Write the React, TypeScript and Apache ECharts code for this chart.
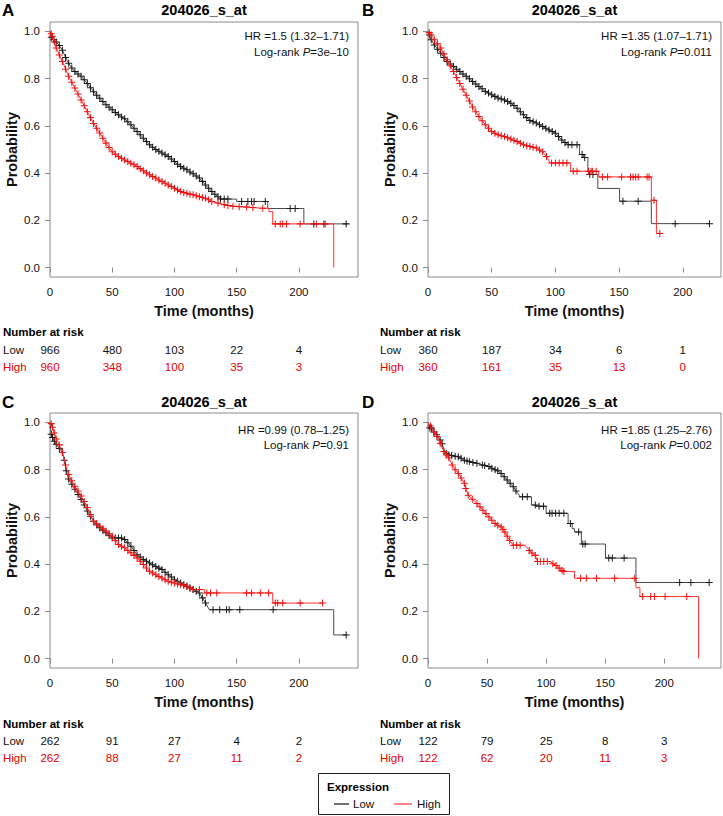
import React, { useEffect, useRef } from 'react';
import * as echarts from 'echarts';

const FONT = 'Liberation Sans';

// ---- axis ticks / categories ----
const xTicks = [0, 50, 100, 150, 200];
const yTicks = [0, 0.2, 0.4, 0.6, 0.8, 1.0];
const riskRows = ['Low', 'High'];
const panelTitle = '204026_s_at';

// ---- Kaplan–Meier curves: [time (months), survival probability, censored mark 1/0] ----
const aLow = [[0,1,0],[1,0.975,1],[3,0.965,1],[5,0.955,1],[7.5,0.94,1],[10,0.92,1],[12.5,0.89,1],[15,0.865,1],[17.5,0.845,1],[20,0.83,1],[22.5,0.82,1],[25,0.81,1],[27.5,0.795,1],[30,0.78,1],[32.5,0.762,1],[35,0.745,1],[37.5,0.73,1],[40,0.717,1],[42.5,0.703,1],[45,0.69,1],[47.5,0.679,1],[50,0.668,1],[52.5,0.657,1],[55,0.647,1],[57.5,0.638,1],[60,0.63,1],[62.5,0.618,1],[65,0.605,1],[67.5,0.59,1],[70,0.576,1],[72.5,0.562,1],[75,0.548,1],[77.5,0.534,1],[80,0.52,1],[82.5,0.51,1],[85,0.5,1],[87.5,0.493,1],[90,0.485,1],[92.5,0.478,1],[95,0.47,1],[97.5,0.46,1],[100,0.449,1],[102.5,0.438,1],[105,0.428,1],[107.5,0.421,1],[110,0.414,1],[112.5,0.405,1],[115,0.397,1],[117.5,0.388,1],[120,0.379,1],[122.5,0.365,1],[125,0.35,1],[127.5,0.336,1],[130,0.322,1],[132.5,0.31,1],[135,0.3,1],[137,0.29,1],[140,0.29,1],[143,0.29,1],[147,0.29,0],[150,0.29,0],[150,0.28,0],[154,0.28,1],[159,0.28,1],[162,0.28,1],[164,0.28,1],[173,0.28,1],[175,0.28,0],[175,0.25,0],[193,0.25,1],[197,0.25,1],[204,0.25,0],[204,0.185,0],[212,0.185,1],[221,0.185,1],[238,0.185,1]];
const aHigh = [[0,1,0],[1,0.99,1],[2,0.98,1],[3.5,0.955,1],[5,0.93,1],[7.5,0.9,1],[10,0.873,1],[12.5,0.84,1],[15,0.81,1],[17.5,0.785,1],[20,0.76,1],[22.5,0.735,1],[25,0.71,1],[27.5,0.685,1],[30,0.66,1],[32.5,0.635,1],[35,0.61,1],[37.5,0.59,1],[40,0.57,1],[42.5,0.548,1],[45,0.527,1],[47.5,0.508,1],[50,0.49,1],[52.5,0.48,1],[55,0.47,1],[57.5,0.463,1],[60,0.456,1],[62.5,0.449,1],[65,0.442,1],[67.5,0.435,1],[70,0.428,1],[72.5,0.419,1],[75,0.41,1],[77.5,0.401,1],[80,0.393,1],[82.5,0.386,1],[85,0.379,1],[87.5,0.371,1],[90,0.364,1],[92.5,0.357,1],[95,0.35,1],[97.5,0.343,1],[100,0.336,1],[102.5,0.329,1],[105,0.322,1],[107.5,0.318,1],[110,0.315,1],[112.5,0.311,1],[115,0.308,1],[117.5,0.304,1],[120,0.3,1],[122.5,0.297,1],[125,0.294,1],[127.5,0.287,1],[130,0.28,1],[135,0.273,1],[140,0.266,1],[143,0.263,1],[147,0.26,1],[152,0.258,1],[158,0.256,1],[163,0.254,1],[171,0.251,1],[176,0.251,0],[176,0.237,0],[179,0.237,0],[179,0.185,0],[181,0.185,1],[185,0.185,1],[187,0.185,1],[190,0.185,1],[201,0.185,1],[214,0.185,1],[220,0.185,1],[228,0.185,0],[228,0,0]];

const bLow = [[0,1,0],[1,0.985,1],[2.5,0.965,1],[5,0.943,1],[7.5,0.925,1],[10,0.908,1],[12.5,0.89,1],[15,0.873,1],[17.5,0.862,1],[20,0.852,1],[22.5,0.84,1],[25,0.83,1],[27.5,0.82,1],[30,0.81,1],[32.5,0.8,1],[35,0.788,1],[37.5,0.777,1],[40,0.767,1],[42.5,0.757,1],[45,0.746,1],[47.5,0.739,1],[50,0.732,1],[52.5,0.725,1],[55,0.718,1],[57.5,0.714,1],[60,0.71,1],[62.5,0.703,1],[65,0.696,1],[67.5,0.686,1],[70,0.675,1],[72.5,0.66,1],[75,0.647,1],[77.5,0.635,1],[80,0.623,1],[82.5,0.618,1],[85,0.612,1],[87.5,0.605,1],[90,0.597,1],[92.5,0.59,1],[95,0.583,1],[97.5,0.576,1],[100,0.569,1],[102.5,0.555,1],[105,0.54,1],[107.5,0.53,1],[110,0.52,1],[113,0.52,1],[117,0.52,1],[119,0.52,0],[119,0.479,0],[121,0.479,1],[122,0.479,0],[122,0.466,0],[123,0.466,1],[125.5,0.466,0],[125.5,0.408,0],[126.5,0.408,0],[126.5,0.394,0],[127,0.394,1],[129.5,0.394,1],[133.3,0.394,0],[133.3,0.335,0],[150.4,0.335,0],[150.4,0.281,0],[153,0.281,1],[165,0.281,1],[175.3,0.281,0],[175.3,0.186,0],[194,0.186,1],[221,0.186,1]];
const bHigh = [[0,1,0],[1,0.995,1],[2.5,0.985,1],[5,0.965,1],[7.5,0.948,1],[10,0.93,1],[12.5,0.905,1],[15,0.88,1],[17.5,0.855,1],[20,0.83,1],[22.5,0.805,1],[25,0.78,1],[27.5,0.755,1],[30,0.73,1],[32.5,0.705,1],[35,0.68,1],[37.5,0.66,1],[40,0.64,1],[42.5,0.622,1],[45,0.605,1],[47.5,0.59,1],[50,0.576,1],[52.5,0.569,1],[55,0.562,1],[57.5,0.558,1],[60,0.555,1],[62.5,0.55,1],[65,0.544,1],[67.5,0.539,1],[70,0.534,1],[72.5,0.527,1],[75,0.52,1],[77.5,0.516,1],[80,0.513,1],[82.5,0.51,1],[85,0.506,1],[87.5,0.498,1],[90,0.49,1],[93,0.47,1],[96,0.443,0],[97,0.443,1],[100,0.443,1],[103,0.443,1],[106,0.443,1],[109,0.443,1],[112,0.443,0],[112,0.408,0],[114,0.408,1],[117,0.408,1],[126,0.408,1],[128,0.408,1],[129,0.408,1],[132,0.408,1],[134,0.408,0],[134,0.384,0],[137,0.384,1],[141,0.384,1],[152,0.384,1],[159,0.384,1],[161,0.384,1],[163,0.384,1],[165,0.384,1],[172,0.384,1],[173.5,0.384,1],[175.3,0.384,0],[175.3,0.285,0],[177.4,0.285,1],[179.3,0.285,0],[179.3,0.144,0],[182,0.144,1]];

const cLow = [[0,1,0],[1,0.95,1],[2,0.936,1],[3.5,0.92,1],[5,0.908,1],[7.5,0.89,1],[10,0.873,1],[11.5,0.84,1],[13,0.795,1],[15,0.76,1],[17.5,0.738,1],[20,0.717,1],[22.5,0.695,1],[25,0.674,1],[27.5,0.65,1],[30,0.625,1],[32.5,0.603,1],[35,0.582,1],[37.5,0.567,1],[40,0.554,1],[42.5,0.543,1],[45,0.533,1],[47.5,0.522,1],[50,0.511,1],[52.5,0.511,1],[55,0.511,1],[57.5,0.511,1],[60,0.504,1],[62.5,0.49,1],[65,0.476,1],[67.5,0.458,1],[70,0.44,1],[72.5,0.43,1],[75,0.419,1],[77.5,0.412,1],[80,0.405,1],[82.5,0.397,1],[85,0.39,1],[87.5,0.383,1],[90,0.377,1],[92.5,0.366,1],[95,0.355,1],[97.5,0.345,1],[100,0.334,1],[102.5,0.327,1],[105,0.32,1],[107.5,0.313,1],[110,0.306,1],[112.5,0.299,1],[115,0.292,1],[117.5,0.285,1],[120,0.278,1],[122.5,0.257,1],[125,0.235,1],[128,0.207,0],[131,0.207,1],[136.4,0.207,1],[141.8,0.207,1],[144,0.207,1],[152.5,0.207,1],[179.3,0.207,1],[228,0.207,0],[228,0.1,0],[238,0.1,1]];
const cHigh = [[0,1,0],[1,0.995,1],[2,0.98,1],[3.5,0.955,1],[5,0.93,1],[7.5,0.905,1],[10,0.873,1],[12.5,0.82,1],[15,0.78,1],[17.5,0.753,1],[20,0.73,1],[22.5,0.71,1],[25,0.688,1],[27.5,0.665,1],[30,0.64,1],[32.5,0.61,1],[35,0.582,1],[37.5,0.571,1],[40,0.56,1],[42.5,0.55,1],[45,0.54,1],[47.5,0.529,1],[50,0.518,1],[52.5,0.5,1],[55,0.483,1],[57.5,0.476,1],[60,0.469,1],[62.5,0.458,1],[65,0.448,1],[67.5,0.437,1],[70,0.426,1],[72.5,0.412,1],[75,0.398,1],[77.5,0.384,1],[80,0.37,1],[82.5,0.362,1],[85,0.355,1],[87.5,0.348,1],[90,0.341,1],[92.5,0.334,1],[95,0.327,1],[97.5,0.323,1],[100,0.32,1],[102.5,0.316,1],[105,0.313,1],[107.5,0.31,1],[110,0.306,1],[112.5,0.299,1],[115,0.292,1],[120,0.292,1],[124,0.292,0],[124,0.278,0],[126,0.278,1],[129,0.278,1],[134,0.278,1],[158,0.278,1],[162,0.278,1],[169,0.278,1],[175.5,0.278,1],[179,0.278,0],[179,0.235,0],[181,0.235,1],[183,0.235,1],[187,0.235,1],[201,0.235,1],[219,0.235,1]];

const dLow = [[0,1,0],[1.5,0.976,1],[3,0.976,1],[5,0.96,1],[7.3,0.948,1],[10.3,0.926,1],[12,0.91,1],[13.5,0.885,0],[15.5,0.87,1],[17.6,0.862,1],[20,0.86,1],[23,0.857,1],[25.7,0.855,1],[28,0.848,1],[30.8,0.84,1],[33,0.837,1],[35,0.835,1],[38,0.83,1],[41.4,0.827,1],[46,0.82,1],[48,0.818,1],[51.6,0.813,1],[54,0.806,1],[56.8,0.8,1],[59,0.795,1],[61.9,0.784,1],[64.5,0.77,1],[67,0.756,1],[69.5,0.742,1],[72.2,0.728,1],[74.5,0.71,1],[77.3,0.692,0],[77.3,0.685,0],[80,0.685,1],[84,0.685,1],[87.6,0.685,0],[87.6,0.65,0],[90.8,0.65,1],[94,0.645,1],[97.8,0.645,1],[100,0.645,0],[100,0.615,0],[103,0.615,1],[105,0.615,1],[108,0.615,1],[111,0.615,1],[115,0.615,1],[118.6,0.615,0],[118.6,0.572,0],[120.5,0.572,1],[122,0.572,0],[122,0.55,0],[124,0.55,0],[124,0.536,0],[127.5,0.536,1],[129.8,0.536,0],[129.8,0.485,0],[131,0.485,1],[133,0.485,1],[150.2,0.485,0],[150.2,0.4255,0],[153,0.4255,1],[156,0.4255,1],[166,0.4255,1],[176,0.4255,0],[176,0.322,0],[213,0.322,1],[222.5,0.322,1],[238,0.322,1]];
const dHigh = [[0,1,0],[2,0.985,1],[5.1,0.96,1],[7.5,0.94,1],[10.3,0.912,1],[13.5,0.877,1],[15.5,0.862,1],[17.6,0.85,1],[20.5,0.82,1],[23,0.8,1],[25.7,0.784,1],[28,0.765,1],[30.8,0.742,1],[32,0.72,1],[34,0.692,1],[37.5,0.675,1],[41.4,0.657,1],[44,0.643,1],[46.5,0.628,1],[49,0.614,1],[51.6,0.6,1],[54,0.586,1],[56.8,0.572,1],[59,0.565,1],[61.9,0.557,1],[63.5,0.547,1],[65.1,0.536,1],[67,0.518,1],[69.2,0.5,1],[72.2,0.48,1],[75,0.48,1],[78,0.48,1],[82.4,0.48,0],[85.7,0.458,1],[88,0.447,1],[90.8,0.437,1],[92.7,0.411,1],[95,0.411,1],[98,0.411,1],[101,0.411,1],[103,0.411,0],[105.7,0.402,1],[108.4,0.394,1],[111,0.383,1],[113.5,0.373,1],[115,0.369,1],[124,0.369,0],[124,0.34,0],[129,0.34,1],[134,0.34,1],[142.6,0.34,1],[158,0.34,1],[175,0.34,1],[176,0.34,0],[176,0.3,0],[179.4,0.3,0],[179.4,0.2625,0],[181.7,0.2625,1],[188.5,0.2625,1],[191.6,0.2625,1],[200.7,0.2625,1],[219,0.2625,1],[229,0.2625,0],[229,0,0]];

// ---- statistics ----
const hrLabels = ['HR =1.5 (1.32\u20131.71)', 'HR =1.35 (1.07\u20131.71)', 'HR =0.99 (0.78\u20131.25)', 'HR =1.85 (1.25\u20132.76)'];
const pValues = ['3e\u201310', '0.011', '0.91', '0.002'];

// ---- number at risk (at xTicks) ----
const riskLowA = [966, 480, 103, 22, 4];
const riskHighA = [960, 348, 100, 35, 3];
const riskLowB = [360, 187, 34, 6, 1];
const riskHighB = [360, 161, 35, 13, 0];
const riskLowC = [262, 91, 27, 4, 2];
const riskHighC = [262, 88, 27, 11, 2];
const riskLowD = [122, 79, 25, 8, 3];
const riskHighD = [122, 62, 20, 11, 3];

const panelLetters = ['A', 'B', 'C', 'D'];
const lowCurves = [aLow, bLow, cLow, dLow];
const highCurves = [aHigh, bHigh, cHigh, dHigh];
const riskLows = [riskLowA, riskLowB, riskLowC, riskLowD];
const riskHighs = [riskHighA, riskHighB, riskHighC, riskHighD];
const xMaxes = [247.5, 230, 247.5, 248];

// ---- layout (pixels) ----
const frames = [
  { left: 50, top: 22, width: 308, riskTop: 341.5, labelMargin: 47, headerX: 3, headerY: 332, letterX: 2, titleY: 10, hrY: 36, pY: 52 },
  { left: 428, top: 22, width: 293, riskTop: 341.5, labelMargin: 48, headerX: 380, headerY: 332, letterX: 362, titleY: 10, hrY: 36, pY: 52 },
  { left: 50, top: 413, width: 308, riskTop: 732.5, labelMargin: 47, headerX: 3, headerY: 724, letterX: 2, titleY: 402, hrY: 430, pY: 445 },
  { left: 428, top: 413, width: 293, riskTop: 732.5, labelMargin: 48, headerX: 380, headerY: 724, letterX: 362, titleY: 402, hrY: 430, pY: 445 },
];
const PLOT_H = 255;
const RISK_H = 34;

const BLACK_LINE = '#4a4a4a';
const BLACK_MARK = '#1a1a1a';
const RED_LINE = '#ff3030';
const RED_MARK = '#ee1010';
const RED_TEXT = '#e60000';
const TEXT = '#111111';
const BOX = '#8a8a8a';

const PLUS = 'path://M3,0H4V3H7V4H4V7H3V4H0V3H3Z';

function buildOption() {
  const grid: any[] = [];
  const xAxis: any[] = [];
  const yAxis: any[] = [];
  const series: any[] = [];
  const graphics: any[] = [];

  frames.forEach((f, i) => {
    const xMax = xMaxes[i];
    grid.push({ left: f.left, top: f.top, width: f.width, height: PLOT_H, show: true, borderColor: BOX, borderWidth: 1, backgroundColor: 'transparent', containLabel: false });
    xAxis.push({
      type: 'value', gridIndex: 2 * i, min: 0, max: xMax,
      name: 'Time (months)', nameLocation: 'middle', nameGap: 26,
      nameTextStyle: { fontFamily: FONT, fontSize: 14.5, fontWeight: 'bold', color: TEXT },
      axisLine: { show: false },
      axisTick: { show: true, length: 5, inside: false, lineStyle: { color: BOX }, customValues: xTicks },
      axisLabel: { fontFamily: FONT, fontSize: 11.5, color: TEXT, margin: 9, customValues: xTicks },
      splitLine: { show: false },
    });
    yAxis.push({
      type: 'value', gridIndex: 2 * i, min: -0.04, max: 1.04,
      name: 'Probability', nameLocation: 'middle', nameGap: 31,
      nameTextStyle: { fontFamily: FONT, fontSize: 14.5, fontWeight: 'bold', color: TEXT },
      axisLine: { show: false },
      axisTick: { show: true, length: 5, inside: false, lineStyle: { color: BOX }, customValues: yTicks },
      axisLabel: { fontFamily: FONT, fontSize: 11.5, color: TEXT, margin: 10, customValues: yTicks, formatter: (v: number) => v.toFixed(1) },
      splitLine: { show: false },
    });
    grid.push({ left: f.left, top: f.riskTop, width: f.width, height: RISK_H, show: false });
    xAxis.push({ type: 'value', gridIndex: 2 * i + 1, min: 0, max: xMax, show: false });
    yAxis.push({
      type: 'category', gridIndex: 2 * i + 1, data: riskRows, inverse: true,
      axisLine: { show: false }, axisTick: { show: false }, splitLine: { show: false },
      axisLabel: {
        align: 'left', margin: f.labelMargin, fontFamily: FONT, fontSize: 11.5,
        color: (v: string) => (v === 'High' ? RED_TEXT : TEXT),
      },
    });

    const curve = (name: string, data: number[][], line: string, mark: string, z: number) => ({
      type: 'line', name, data, xAxisIndex: 2 * i, yAxisIndex: 2 * i,
      showSymbol: true, showAllSymbol: true,
      symbol: (v: number[]) => (v[2] ? PLUS : 'none'),
      symbolSize: 7,
      itemStyle: { color: mark },
      lineStyle: { color: line, width: 1 },
      silent: true, z, clip: false,
      emphasis: { disabled: true },
    });
    series.push(curve('Low', lowCurves[i], BLACK_LINE, BLACK_MARK, 2));
    series.push(curve('High', highCurves[i], RED_LINE, RED_MARK, 3));

    const riskSeries = (row: string, vals: number[], color: string) => ({
      type: 'scatter', name: 'risk ' + row, xAxisIndex: 2 * i + 1, yAxisIndex: 2 * i + 1,
      data: xTicks.map((t, k) => [t, riskRows.indexOf(row), vals[k]]),
      symbol: 'circle', symbolSize: 0, itemStyle: { color }, silent: true,
      label: {
        show: true, position: 'inside', formatter: (p: any) => String(p.value[2]),
        color, opacity: 1, textBorderWidth: 0, textBorderColor: 'transparent',
        fontFamily: FONT, fontSize: 11.5,
      },
    });
    series.push(riskSeries('Low', riskLows[i], TEXT));
    series.push(riskSeries('High', riskHighs[i], RED_TEXT));

    const cx = f.left + f.width / 2;
    const right = f.left + f.width - 9;
    graphics.push(
      { type: 'text', x: f.letterX, y: f.titleY, style: { text: panelLetters[i], fill: '#000', font: `bold 17px "${FONT}"`, verticalAlign: 'middle', align: 'left' } },
      { type: 'text', x: cx, y: f.titleY, style: { text: panelTitle, fill: '#000', font: `bold 14.5px "${FONT}"`, verticalAlign: 'middle', align: 'center' } },
      { type: 'text', x: right, y: f.hrY, style: { text: hrLabels[i], fill: TEXT, font: `11.5px "${FONT}"`, verticalAlign: 'middle', align: 'right' } },
      { type: 'text', x: right, y: f.pY, style: {
        text: `{n|Log-rank }{i|P}{n|=${pValues[i]}}`, align: 'right', verticalAlign: 'middle', fill: TEXT, font: `11.5px "${FONT}"`,
        rich: { n: { fill: TEXT, fontSize: 11.5, fontFamily: FONT }, i: { fill: TEXT, fontSize: 11.5, fontFamily: FONT, fontStyle: 'italic' } },
      } },
      { type: 'text', x: f.headerX, y: f.headerY, style: { text: 'Number at risk', fill: '#000', font: `bold 11.5px "${FONT}"`, verticalAlign: 'middle', align: 'left' } },
    );
  });

  graphics.push(
    { type: 'rect', shape: { x: 318.5, y: 773.5, width: 131, height: 41 }, style: { fill: '#fff', stroke: '#222', lineWidth: 1 } },
    { type: 'text', x: 327, y: 787, style: { text: 'Expression', fill: '#000', font: `bold 11.5px "${FONT}"`, verticalAlign: 'middle', align: 'left' } },
    { type: 'line', shape: { x1: 334, y1: 804, x2: 349, y2: 804 }, style: { stroke: '#111', lineWidth: 1.2 } },
    { type: 'text', x: 353, y: 804, style: { text: riskRows[0], fill: TEXT, font: `11.5px "${FONT}"`, verticalAlign: 'middle', align: 'left' } },
    { type: 'line', shape: { x1: 394, y1: 804, x2: 412, y2: 804 }, style: { stroke: RED_LINE, lineWidth: 1.2 } },
    { type: 'text', x: 417, y: 804, style: { text: riskRows[1], fill: TEXT, font: `11.5px "${FONT}"`, verticalAlign: 'middle', align: 'left' } },
  );

  return {
    animation: false,
    backgroundColor: '#fff',
    textStyle: { fontFamily: FONT },
    grid, xAxis, yAxis, series,
    graphic: { elements: graphics },
  };
}

export default function App() {
  const ref = useRef<HTMLDivElement>(null);
  useEffect(() => {
    if (!ref.current) return;
    const chart = echarts.init(ref.current, null, { renderer: 'svg' });
    chart.setOption(buildOption() as any);
    return () => chart.dispose();
  }, []);
  return <div ref={ref} style={{ position: 'absolute', left: 0, top: 0, width: 723, height: 816 }} />;
}
